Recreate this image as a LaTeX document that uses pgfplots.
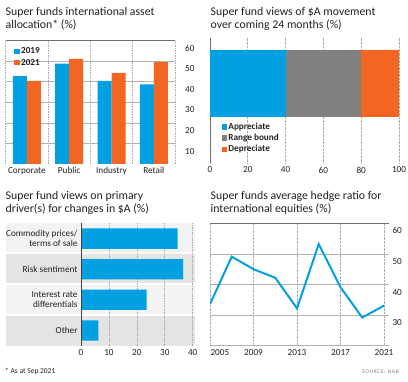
\documentclass[border=0pt]{standalone}
\usepackage{pgfplots}
\pgfplotsset{compat=1.18}
\usepackage{fontspec}
\setmainfont{Carlito}
\definecolor{cblue}{RGB}{0,160,227}
\definecolor{corange}{RGB}{242,101,34}
\definecolor{cgrey}{RGB}{128,128,128}
\definecolor{ctext}{RGB}{35,31,32}
\definecolor{gridc}{RGB}{178,178,178}
\definecolor{dotc}{RGB}{170,170,170}
\definecolor{bandA}{RGB}{243,243,243}
\definecolor{bandB}{RGB}{228,228,228}
\definecolor{topc}{RGB}{110,110,110}
\pgfplotsset{
  every axis/.append style={
    scale only axis, anchor=north west,
    /pgf/number format/assume math mode=true,
    tick label style={font=\fontsize{9.2bp}{10bp}\selectfont, text=ctext},
    major tick length=0pt,
    axis line style={draw=none},
  },
  sq legend/.style={legend image code/.code={\fill[##1] (0bp,-2.7bp) rectangle (5.4bp,2.7bp);}},
}
\newcommand{\T}[1]{\fontsize{11.8bp}{13bp}\selectfont #1}
\begin{document}
\begin{tikzpicture}[x=1bp,y=1bp]
\useasboundingbox (0,0) rectangle (408,382);
% titles
\node[anchor=base west, inner sep=0, text=ctext] at (5.5,382-15.3) {\T{Super funds international asset}};
\node[anchor=base west, inner sep=0, text=ctext] at (5.5,382-28.7) {\T{allocation* (\%)}};
\node[anchor=base west, inner sep=0, text=ctext] at (210.5,382-15.3) {\T{Super fund views of \$A movement}};
\node[anchor=base west, inner sep=0, text=ctext] at (210.5,382-28.7) {\T{over coming 24 months (\%)}};
\node[anchor=base west, inner sep=0, text=ctext] at (5.5,382-199) {\T{Super fund views on primary}};
\node[anchor=base west, inner sep=0, text=ctext] at (5.5,382-212.3) {\T{driver(s) for changes in \$A (\%)}};
\node[anchor=base west, inner sep=0, text=ctext] at (210.5,382-199) {\T{Super funds average hedge ratio for}};
\node[anchor=base west, inner sep=0, text=ctext] at (210.5,382-212.3) {\T{international equities (\%)}};
\node[anchor=base west, inner sep=0, text=ctext] at (5,382-373.3) {\fontsize{7.5bp}{9bp}\selectfont * As at Sep 2021};
\node[anchor=base east, inner sep=0, text=gray] at (399,382-373.3) {\fontsize{5.5bp}{6bp}\selectfont\addfontfeatures{LetterSpace=12}SOURCE: NAB};

% Panel 1
\begin{axis}[at={(5.7bp,341.3bp)}, width=169.3bp, height=123.3bp,
  xmin=-0.5, xmax=3.5, ymin=0, ymax=60,
  xtick={0,1,2,3}, xticklabels={Corporate,Public,Industry,Retail},
  ytick={10,20,...,60}, yticklabel pos=right,
  yticklabel style={anchor=west, yshift=-7.6bp, xshift=6.7bp},
  ymajorgrids, major grid style={gridc, line width=0.7bp},
  extra x ticks={-0.5,0.5,1.5,2.5,3.5}, extra x tick labels={},
  extra x tick style={xmajorgrids=true, ymajorgrids=false, major grid style={densely dotted, dotc, line width=0.7bp}},
  legend style={at={(axis description cs:0.049,0.955)}, anchor=north west, draw=none, fill=none,
    font=\bfseries\fontsize{9.2bp}{10bp}\selectfont, text=ctext, inner sep=0pt, row sep=0.5bp,
    nodes={inner sep=1.5bp}},
  legend cell align=left,
]
\addplot[ybar, bar width=14bp, bar shift=-7bp, fill=cblue, draw=none, sq legend]
  coordinates {(0,42.8) (1,48.9) (2,40.4) (3,38.7)};
\addplot[ybar, bar width=14bp, bar shift=7bp, fill=corange, draw=none, sq legend]
  coordinates {(0,40.4) (1,51.1) (2,44.4) (3,49.6)};
\legend{2019,2021}
\draw[topc, line width=1.2bp] (rel axis cs:0,1) -- (rel axis cs:1,1);
\draw[topc, line width=0.8bp] (rel axis cs:0,0) -- (rel axis cs:1,0);
\end{axis}

% Panel 2
\begin{axis}[at={(210bp,344.3bp)}, width=189bp, height=125.6bp,
  xmin=0, xmax=100, ymin=-80, ymax=45.6,
  xtick={0,20,...,100}, ytick=\empty,
  xmajorgrids, major grid style={densely dotted, dotc, line width=0.7bp},
  xbar stacked, bar width=66.7bp,
  legend style={at={(axis description cs:0.06,0.335)}, anchor=north west, draw=none, fill=none,
    font=\bfseries\fontsize{9.2bp}{10bp}\selectfont, text=ctext, inner sep=0pt, row sep=0.3bp,
    nodes={inner sep=1.5bp}},
  legend cell align=left,
]
\addplot[fill=cblue, draw=none, sq legend] coordinates {(40,0)};
\addplot[fill=cgrey, draw=none, sq legend] coordinates {(40,0)};
\addplot[fill=corange, draw=none, sq legend] coordinates {(20,0)};
\legend{Appreciate,Range bound,Depreciate}
\draw[topc, line width=1bp] (rel axis cs:0,0) -- (rel axis cs:0,1);
\draw[gridc, line width=1bp] (rel axis cs:1,0) -- (rel axis cs:1,1);
\end{axis}

% Panel 3
\begin{axis}[at={(81bp,158.7bp)}, width=114bp, height=122.4bp,
  clip=false, axis on top,
  xmin=0, xmax=40.82, ymin=-0.5, ymax=3.5, y dir=reverse,
  xtick={0,10,...,40}, ytick={0,1,2,3},
  yticklabels={{Commodity prices/\\terms of sale},{Risk sentiment},{Interest rate\\differentials},{Other}},
  yticklabel style={align=right},
]
\fill[bandA] (axis cs:-26.86,-0.5) rectangle (axis cs:40.82,0.43);
\fill[bandB] (axis cs:-26.86,0.5) rectangle (axis cs:40.82,1.46);
\fill[bandA] (axis cs:-26.86,1.52) rectangle (axis cs:40.82,2.47);
\fill[bandB] (axis cs:-26.86,2.53) rectangle (axis cs:40.82,3.5);
\draw[densely dotted, dotc, line width=0.7bp] (axis cs:10,-0.5) -- (axis cs:10,3.5);
\draw[densely dotted, dotc, line width=0.7bp] (axis cs:20,-0.5) -- (axis cs:20,3.5);
\draw[densely dotted, dotc, line width=0.7bp] (axis cs:30,-0.5) -- (axis cs:30,3.5);
\draw[densely dotted, dotc, line width=0.7bp] (axis cs:40,-0.5) -- (axis cs:40,3.5);
\addplot[xbar, bar width=20.3bp, fill=cblue, draw=none]
  coordinates {(34.6,0) (36.6,1) (23.5,2) (6.2,3)};
\draw[ctext!85, line width=0.9bp] (axis cs:0,-0.5) -- (axis cs:0,3.5);
\end{axis}

% Panel 4
\begin{axis}[at={(210bp,158.7bp)}, width=179bp, height=122.4bp,
  xmin=2005, xmax=2021.46, ymin=20, ymax=60,
  xtick={2009,2013,2017,2021}, xticklabel style={/pgf/number format/1000 sep={}},
  extra x ticks={2005}, extra x tick style={xticklabel style={anchor=north west, xshift=-3bp, /pgf/number format/1000 sep={}}},
  ytick={30,40,50,60}, yticklabel pos=right,
  yticklabel style={anchor=west, yshift=-7.6bp, xshift=0bp},
  ymajorgrids, xmajorgrids,
  y grid style={gridc, line width=0.7bp},
  x grid style={densely dotted, dotc, line width=0.7bp},
]
\draw[topc, line width=1.2bp] (rel axis cs:0,1) -- (rel axis cs:1,1);
\draw[gridc, line width=0.8bp] (rel axis cs:0,0) -- (rel axis cs:1,0);
\addplot[cblue, line width=2bp, mark=none]
  coordinates {(2005,33.6) (2007,49.1) (2009,45.0) (2011,42.2) (2013,32.2) (2015,53.2) (2017,39.1) (2019,29.2) (2021,33.1)};
\end{axis}
\end{tikzpicture}
\end{document}
